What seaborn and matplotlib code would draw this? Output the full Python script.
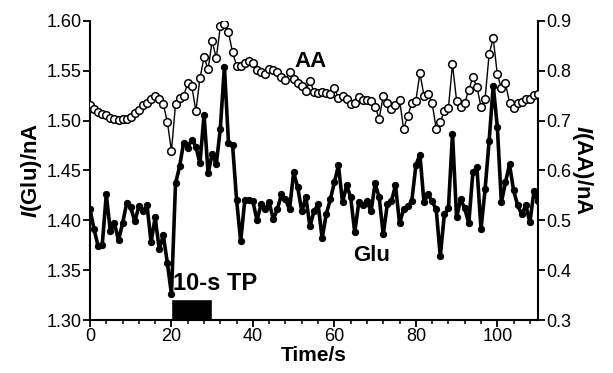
import numpy as np
import pandas as pd
import matplotlib
matplotlib.use("Agg")
import matplotlib.pyplot as plt
from matplotlib.ticker import MultipleLocator, FormatStrFormatter
import seaborn as sns

# Dados (1 ponto por segundo)
time_s = np.arange(0, 111)

glu_nA = [
    1.411, 1.391, 1.374, 1.375, 1.426, 1.389, 1.397, 1.380, 1.397, 1.417,
    1.413, 1.399, 1.414, 1.409, 1.415, 1.378, 1.403, 1.371, 1.385, 1.357,
    1.326, 1.437, 1.454, 1.478, 1.473, 1.481, 1.474, 1.457, 1.506, 1.447,
    1.467, 1.456, 1.492, 1.554, 1.478, 1.476, 1.420, 1.379, 1.420, 1.420,
    1.419, 1.400, 1.416, 1.411, 1.418, 1.401, 1.411, 1.426, 1.421, 1.411,
    1.448, 1.433, 1.409, 1.423, 1.394, 1.409, 1.416, 1.382, 1.406, 1.421,
    1.438, 1.455, 1.418, 1.435, 1.423, 1.388, 1.418, 1.415, 1.419, 1.409,
    1.437, 1.423, 1.386, 1.416, 1.419, 1.435, 1.397, 1.411, 1.414, 1.419,
    1.455, 1.466, 1.418, 1.426, 1.419, 1.411, 1.364, 1.406, 1.412, 1.487,
    1.403, 1.421, 1.412, 1.397, 1.448, 1.453, 1.391, 1.431, 1.480, 1.535,
    1.494, 1.418, 1.438, 1.456, 1.430, 1.415, 1.406, 1.415, 1.398, 1.429,
    1.419,
]

aa_nA = [
    0.731, 0.724, 0.717, 0.713, 0.711, 0.705, 0.703, 0.701, 0.703, 0.704,
    0.708, 0.715, 0.722, 0.731, 0.735, 0.743, 0.750, 0.744, 0.733, 0.697,
    0.639, 0.733, 0.746, 0.750, 0.775, 0.769, 0.719, 0.785, 0.827, 0.803,
    0.860, 0.825, 0.889, 0.894, 0.877, 0.837, 0.810, 0.810, 0.815, 0.820,
    0.815, 0.802, 0.797, 0.793, 0.803, 0.802, 0.798, 0.787, 0.782, 0.797,
    0.783, 0.775, 0.770, 0.760, 0.780, 0.757, 0.755, 0.757, 0.755, 0.753,
    0.765, 0.746, 0.750, 0.743, 0.733, 0.735, 0.748, 0.742, 0.742, 0.740,
    0.728, 0.704, 0.750, 0.736, 0.723, 0.731, 0.742, 0.683, 0.709, 0.735,
    0.740, 0.795, 0.750, 0.753, 0.735, 0.683, 0.697, 0.720, 0.726, 0.813,
    0.740, 0.728, 0.735, 0.762, 0.787, 0.767, 0.728, 0.744, 0.834, 0.865,
    0.793, 0.765, 0.775, 0.736, 0.726, 0.735, 0.738, 0.744, 0.744, 0.751,
    0.753,
]

# Pulso de estimulação (10-s TP)
tp_start = 20
tp_length = 10

df = pd.DataFrame({"Time": time_s, "Glu": glu_nA, "AA": aa_nA})

sns.set_style("ticks")
plt.rcParams["font.family"] = ["Liberation Sans", "DejaVu Sans"]
plt.rcParams["mathtext.fontset"] = "custom"
plt.rcParams["mathtext.it"] = "Liberation Sans:bold:italic"
plt.rcParams["mathtext.rm"] = "Liberation Sans:bold"
for key in ["text.color", "axes.labelcolor", "xtick.color", "ytick.color", "axes.edgecolor"]:
    plt.rcParams[key] = "black"

fig = plt.figure(figsize=(6.13, 3.73), dpi=100)
ax = fig.add_axes([0.1468, 0.142, 0.7309, 0.802])
ax2 = ax.twinx()

# Glu: círculos cheios, linha grossa
sns.lineplot(data=df, x="Time", y="Glu", ax=ax, color="black", linewidth=2.6,
             marker="o", markersize=4.5, markerfacecolor="black",
             markeredgecolor="black", zorder=3)

# AA: círculos abertos, linha fina
sns.lineplot(data=df, x="Time", y="AA", ax=ax2, color="black", linewidth=1.0,
             marker="o", markersize=5.5, markerfacecolor="white",
             markeredgecolor="black", markeredgewidth=1.1, zorder=3)

ax.broken_barh([(tp_start, tp_length)], (1.30, 0.021), facecolors="black", zorder=2)

ax.set_xlim(0, 110)
ax.set_ylim(1.30, 1.60)
ax2.set_ylim(0.3, 0.9)

ax.xaxis.set_major_locator(MultipleLocator(20))
ax.xaxis.set_minor_locator(MultipleLocator(4))
ax.yaxis.set_major_locator(MultipleLocator(0.05))
ax2.yaxis.set_major_locator(MultipleLocator(0.1))
ax.yaxis.set_major_formatter(FormatStrFormatter("%.2f"))
ax2.yaxis.set_major_formatter(FormatStrFormatter("%.1f"))

for a in (ax, ax2):
    a.spines["top"].set_visible(False)
    for s in a.spines.values():
        s.set_linewidth(1.5)
ax.spines["right"].set_visible(False)
ax2.spines["left"].set_visible(False)
ax2.spines["bottom"].set_visible(False)

ax.tick_params(axis="both", which="major", direction="out", length=5, width=1.3,
               labelsize=13, pad=1)
ax.tick_params(axis="x", which="minor", direction="out", length=3, width=1.1)
ax2.tick_params(axis="y", which="major", direction="out", length=5, width=1.3,
                labelsize=13, pad=1)

ax.set_xlabel("Time/s", fontsize=15, fontweight="bold", labelpad=0.5)
ax.set_ylabel(r"$I$(Glu)/nA", fontsize=16, fontweight="bold", labelpad=2)
ax2.set_ylabel(r"$I$(AA)/nA", fontsize=16, fontweight="bold", rotation=270,
               labelpad=17)

ax2.text(54.2, 0.818, "AA", fontsize=16, fontweight="bold", ha="center", va="center")
ax.text(69.2, 1.365, "Glu", fontsize=16, fontweight="bold", ha="center", va="center")
ax.text(30.8, 1.337, "10-s TP", fontsize=17, fontweight="bold", ha="center", va="center")

fig.savefig("out.png", dpi=100)
